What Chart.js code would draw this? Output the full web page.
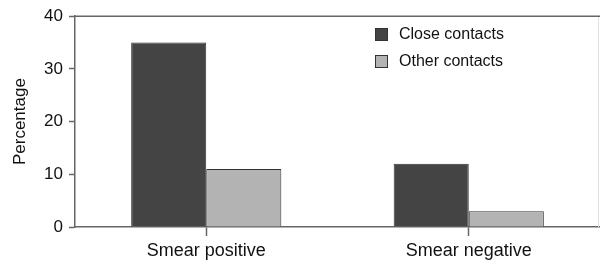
<!DOCTYPE html>
<html>
<head>
<meta charset="utf-8">
<script src="https://cdn.jsdelivr.net/npm/chart.js@4/dist/chart.umd.min.js"></script>
<style>
html,body{margin:0;padding:0;background:#fff;}
#wrap{width:600px;height:264px;position:relative;}
</style>
</head>
<body>
<div id="wrap"><canvas id="c" width="600" height="264"></canvas></div>
<script>
const categories = ["Smear positive", "Smear negative"];
const seriesNames = ["Close contacts", "Other contacts"];
const closeContacts = [35, 12];
const otherContacts = [11, 3];
const yTicks = [0, 10, 20, 30, 40];
const yTitle = "Percentage";

const FONT = "'Liberation Sans', Arial, Helvetica, sans-serif";
const colors = ["#444444", "#b3b3b3"];

const legendPlugin = {
  id: 'insideLegend',
  afterDraw(chart) {
    const ctx = chart.ctx;
    ctx.save();
    const a = chart.chartArea;
    // faint right frame line near the image edge
    ctx.strokeStyle = '#e0e0e0';
    ctx.lineWidth = 1;
    ctx.beginPath();
    ctx.moveTo(chart.width - 1.5, a.top);
    ctx.lineTo(chart.width - 1.5, a.bottom);
    ctx.stroke();
    // top border line
    ctx.strokeStyle = '#666';
    ctx.lineWidth = 1.5;
    ctx.beginPath();
    ctx.moveTo(a.left, a.top);
    ctx.lineTo(chart.width, a.top);
    ctx.stroke();
    ctx.font = "16px " + FONT;
    ctx.textBaseline = 'middle';
    ctx.textAlign = 'left';
    chart.data.datasets.forEach((ds, i) => {
      const x = 375, y = 28 + i * 27;
      ctx.fillStyle = ds.backgroundColor;
      ctx.fillRect(x, y, 13, 13);
      ctx.strokeStyle = '#333';
      ctx.lineWidth = 1;
      ctx.strokeRect(x + 0.5, y + 0.5, 12, 12);
      ctx.fillStyle = '#111';
      ctx.fillText(ds.label, 399, y + 7);
    });
    ctx.restore();
  }
};

new Chart(document.getElementById('c'), {
  type: 'bar',
  data: {
    labels: categories,
    datasets: [
      { label: seriesNames[0], data: closeContacts, backgroundColor: colors[0], borderColor: '#333', borderWidth: 1, categoryPercentage: 0.572, barPercentage: 1.0 },
      { label: seriesNames[1], data: otherContacts, backgroundColor: colors[1], borderColor: '#333', borderWidth: 1, categoryPercentage: 0.572, barPercentage: 1.0 }
    ]
  },
  options: {
    responsive: false,
    animation: false,
    devicePixelRatio: 1,
    layout: { padding: { top: 14, right: -4, left: 10, bottom: 0 } },
    plugins: { legend: { display: false }, tooltip: { enabled: false } },
    scales: {
      x: {
        offset: true,
        grid: { display: true, drawOnChartArea: false, offset: false, tickLength: 9, color: '#666', tickWidth: 1.5 },
        border: { display: true, color: '#666', width: 1.5 },
        ticks: { color: '#111', font: { size: 18, family: FONT }, padding: 4, maxRotation: 0 },
        afterFit(s) { s.height = 37; }
      },
      y: {
        min: 0, max: 40,
        afterBuildTicks(s) { s.ticks = yTicks.map(v => ({ value: v })); },
        grid: { display: true, drawOnChartArea: false, tickLength: 6, color: '#666', tickWidth: 1.5 },
        border: { display: true, color: '#666', width: 1.5 },
        ticks: { color: '#111', font: { size: 17, family: FONT }, padding: 6 },
        title: { display: true, text: yTitle, color: '#111', font: { size: 17, family: FONT }, padding: { top: 0, bottom: 4 } },
        afterFit(s) { s.width = 65; }
      }
    }
  },
  plugins: [legendPlugin]
});
</script>
</body>
</html>
